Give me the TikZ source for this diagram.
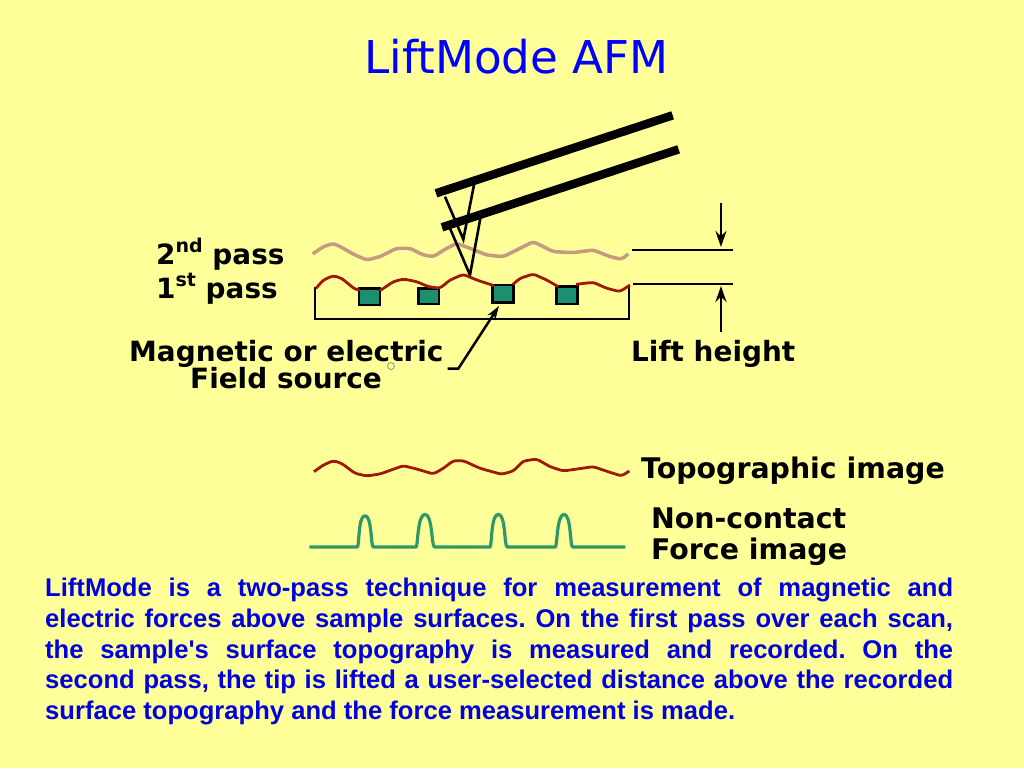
\documentclass[tikz,border=0pt]{standalone}
\usepackage{fontspec}
\setmainfont{DejaVu Sans}
\newfontfamily\bodyfont{Liberation Sans}
\usetikzlibrary{arrows.meta}
\definecolor{bgyellow}{HTML}{FFFF99}
\definecolor{titleblue}{HTML}{0000FF}
\definecolor{bodyblue}{HTML}{0000E0}
\definecolor{wavered}{HTML}{A01808}
\definecolor{wavetan}{HTML}{C49A80}
\definecolor{squaregreen}{HTML}{1A9070}
\definecolor{forcegreen}{HTML}{2F9868}
\tikzset{
  lbl/.style={font=\fontsize{27.9}{32}\selectfont\bfseries,anchor=base west,inner sep=0pt,text=black},
  lblb/.style={lbl,font=\fontsize{28.4}{32}\selectfont\bfseries},
  beam/.style={line width=8.5pt,black},
  thin line/.style={line width=2.2pt,black},
  tipline/.style={line width=2.6pt,black},
  toparrow/.style={line width=2.7pt,black,-{Stealth[length=16pt,width=11pt]}},
  wave/.style={line width=2.8pt,rounded corners=3pt,line join=round},
  srcsq/.style={draw=black,line width=2.4pt,fill=squaregreen},
}
\newcommand{\smallsup}[1]{\raisebox{0.42em}{\fontsize{19}{20}\selectfont #1}}
\begin{document}
\begin{tikzpicture}[x=1pt,y=-1pt]
\useasboundingbox (0,0) rectangle (1024,768);
\fill[bgyellow] (0,0) rectangle (1024,768);
\node[anchor=base,inner sep=0pt,text=titleblue,font=\fontsize{45.2}{52}\selectfont] (title) at (516.5,73) {LiftMode AFM};

\begin{scope}[shift={(300,100)},x=0.3333pt,y=-0.3333pt]
  \draw[wave,wavetan,line width=3.5pt] (38,462) -- (70,440) -- (100,430) -- (130,445) -- (165,465) -- (200,480) -- (240,470) -- (290,445) -- (330,445) -- (370,465) -- (400,470) -- (440,445) -- (470,430) -- (510,445) -- (560,465) -- (610,470) -- (650,450) -- (700,425) -- (760,455) -- (820,458) -- (880,450) -- (930,470) -- (965,478) -- (985,462);
  \draw[tipline] (435,290) -- (490,418) -- (522,255);
  \draw[tipline] (450,385) -- (510,525) -- (542,350);
  \draw[beam] (408,280) -- (1118,46);
  \draw[beam] (426,382) -- (1136,148);
  \draw[thin line] (44,560) -- (44,658) -- (988,658) -- (988,560);
  \draw[srcsq] (177,565) rectangle (240,615);
  \draw[srcsq] (355,565) rectangle (417,612);
  \draw[srcsq] (578,555) rectangle (640,607);
  \draw[srcsq] (770,560) rectangle (832,612);
  \draw[wave,wavered] (48,565) -- (70,540) -- (100,527) -- (125,535) -- (165,568) -- (180,570);
  \draw[wave,wavered] (240,572) -- (280,545) -- (310,537) -- (350,545) -- (385,560) -- (420,565) -- (450,540) -- (490,523) -- (530,540) -- (582,557);
  \draw[wave,wavered] (638,554) -- (660,535) -- (700,522) -- (740,540) -- (775,560);
  \draw[wave,wavered] (828,553) -- (880,547) -- (920,565) -- (960,575) -- (990,555);
  \draw[thin line] (996,449) -- (1298,449);
  \draw[thin line] (1000,551) -- (1298,551);
  \draw[toparrow] (1263,308) -- (1263,441);
  \draw[toparrow] (1263,695) -- (1263,558);
  \draw[line width=2.5pt,black,-{Stealth[length=14pt,width=9pt]}] (443,806) -- (475,806) -- (597,618);
\end{scope}

\draw[gray,line width=0.7pt] (391,366) circle (3.5pt);

\node[lbl] (second) at (156,264) {2\smallsup{nd} pass};
\node[lbl] (first) at (156,298) {1\smallsup{st} pass};
\node[lbl] (mag) at (129,361) {Magnetic or electric};
\node[lbl] (fld) at (190,388) {Field source};
\node[lbl] (lift) at (631,361) {Lift height};
\node[lblb] (topo) at (641,478) {Topographic image};
\node[lblb] (nc) at (651,528) {Non-contact};
\node[lblb] (fi) at (651,559) {Force image};

\begin{scope}[shift={(300,445)},x=0.3333pt,y=-0.3333pt]
  \draw[wave,wavered] (42,80) -- (70,60) -- (100,47) -- (125,55) -- (165,85) -- (200,93) -- (240,87) -- (310,62) -- (350,72) -- (400,87) -- (430,70) -- (460,47) -- (490,47) -- (540,70) -- (605,88) -- (640,78) -- (670,48) -- (710,42) -- (750,65) -- (790,78) -- (880,65) -- (930,82) -- (965,93) -- (988,78);
  \draw[forcegreen,line width=3.2pt,line join=round] (28,306) -- (172,306) .. controls (178,306) and (174,212) .. (195,212) .. controls (216,212) and (212,306) .. (220,306)
    -- (348,306) .. controls (354,306) and (352,208) .. (375,208) .. controls (398,208) and (394,306) .. (404,306)
    -- (570,306) .. controls (576,306) and (572,208) .. (595,208) .. controls (618,208) and (612,306) .. (622,306)
    -- (766,306) .. controls (772,306) and (770,208) .. (792,208) .. controls (814,208) and (810,306) .. (818,306)
    -- (976,306);
\end{scope}

\node[anchor=north west,inner sep=0pt,text width=908pt,align=justify,text=bodyblue,font=\bodyfont\fontsize{25.6}{30.7}\selectfont\bfseries\frenchspacing] (body) at (45,578) {LiftMode is a two-pass technique for measurement of magnetic and\linebreak electric forces above sample surfaces. On the first pass over each scan,\linebreak the sample's surface topography is measured and recorded. On the\linebreak second pass, the tip is lifted a user-selected distance above the recorded\linebreak surface topography and the force measurement is made.};
\end{tikzpicture}
\end{document}
